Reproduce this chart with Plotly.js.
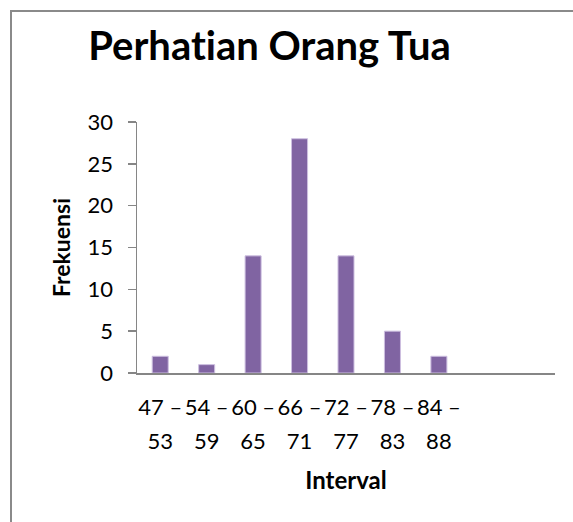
<!DOCTYPE html>
<html>
<head>
<meta charset="utf-8">
<script src="https://cdn.plot.ly/plotly-3.0.1.min.js"></script>
<style>
  html, body { margin: 0; padding: 0; background: #ffffff; }
  #frame { position: absolute; left: 10px; top: 10px; width: 700px; height: 700px;
           border-left: 2px solid #8a8a8a; border-top: 2px solid #8a8a8a; box-sizing: border-box; }
  #chart { position: absolute; left: 0; top: 0; width: 573px; height: 522px; }
  #chart text, #chart tspan { font-variant-ligatures: none; font-feature-settings: "liga" 0, "clig" 0, "dlig" 0; }
</style>
</head>
<body>
<div id="frame"></div>
<div id="chart"></div>
<script>
// Data
const intervals = ["47 – 53", "54 – 59", "60 – 65", "66 – 71", "72 – 77", "78 – 83", "84 – 88"];
const frekuensi = [2, 1, 14, 28, 14, 5, 2];
const chartTitle = "Perhatian Orang Tua";
const xTitle = "Interval";
const yTitle = "Frekuensi";

const idx = intervals.map((_, i) => i);
const line1 = intervals.map(s => s.split(" – ")[0] + " –");
const line2 = intervals.map(s => s.split(" – ")[1]);

const FONT = "Lato, Carlito, Calibri, sans-serif";
const AX = "#868686";

const traces = [
  {
    type: "bar",
    x: idx,
    y: frekuensi,
    width: 0.345,
    marker: { color: "#8064A2", line: { color: "#cdbfe0", width: 1 } },
    hoverinfo: "skip",
    xaxis: "x",
    yaxis: "y"
  },
  { type: "scatter", x: [null], y: [null], xaxis: "x2", yaxis: "y", hoverinfo: "skip", showlegend: false }
];

const layout = {
  width: 573,
  height: 522,
  margin: { l: 137, r: 18, t: 122, b: 149 },
  paper_bgcolor: "rgba(0,0,0,0)",
  plot_bgcolor: "rgba(0,0,0,0)",
  showlegend: false,
  font: { family: FONT, color: "#000000" },
  title: {
    text: "<b>" + chartTitle + "</b>",
    font: { family: FONT, size: 40, color: "#000000" },
    xref: "container", x: 269.5 / 573, xanchor: "center",
    yref: "container", y: 1 - 45.5 / 522, yanchor: "middle"
  },
  xaxis: {
    range: [-0.5, 8.5],
    tickmode: "array",
    tickvals: idx,
    ticktext: line1,
    showline: true, linecolor: AX, linewidth: 1.5,
    ticks: "", showgrid: false, zeroline: false,
    tickfont: { family: FONT, size: 22, color: "#000000" },
    ticklabelstandoff: 14,
    fixedrange: true
  },
  xaxis2: {
    overlaying: "x",
    anchor: "y",
    side: "bottom",
    range: [-0.5, 8.5],
    tickmode: "array",
    tickvals: idx,
    ticktext: line2,
    showline: false, ticks: "", showgrid: false, zeroline: false,
    tickfont: { family: FONT, size: 22, color: "#000000" },
    ticklabelstandoff: 53,
    title: { text: "<b>" + xTitle + "</b>", font: { family: FONT, size: 24, color: "#000000" }, standoff: 19 },
    fixedrange: true
  },
  yaxis: {
    range: [0, 30],
    tickmode: "linear", tick0: 0, dtick: 5,
    showline: true, linecolor: AX, linewidth: 1.5,
    ticks: "outside", ticklen: 8, tickcolor: AX, tickwidth: 1.5,
    showgrid: false, zeroline: false,
    tickfont: { family: FONT, size: 22, color: "#000000" },
    ticklabelstandoff: 10,
    title: { text: "<b>" + yTitle + "</b>", font: { family: FONT, size: 23, color: "#000000" }, standoff: 10 },
    fixedrange: true
  }
};

Plotly.newPlot("chart", traces, layout, { displayModeBar: false, staticPlot: true });
</script>
</body>
</html>
